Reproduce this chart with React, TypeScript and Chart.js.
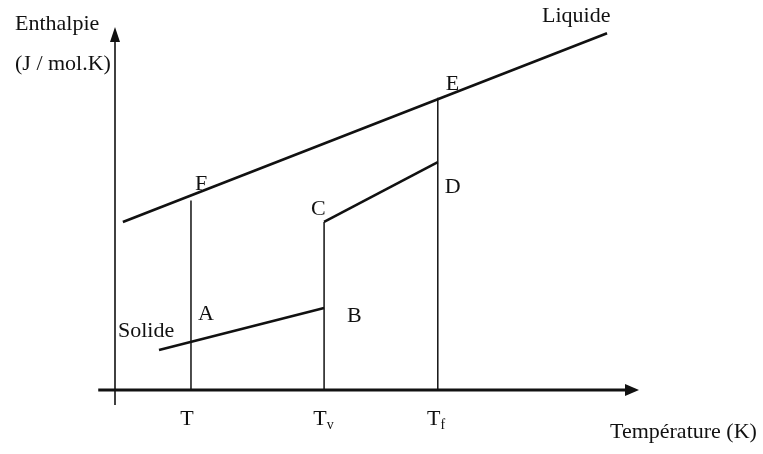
import React, { useEffect, useRef } from "react";
import { Chart, registerables } from "chart.js";

Chart.register(...registerables);

// Temperatures (x, arbitrary units) and their tick labels
const tickMain = ["T", "T", "T"];
const tickSub = ["", "v", "f"];
const tickValues = [1.45, 3.99, 6.16];

// Liquid line
const liquidX = [0.15, 9.39];
const liquidY = [4.63, 9.83];
// Solid line
const solidX = [0.84, 3.99];
const solidY = [1.1, 2.26];
// C-D segment
const cdX = [3.99, 6.16];
const cdY = [4.63, 6.28];
// Vertical drop lines at T, Tv, Tf (top values)
const verticalTops = [5.22, 4.63, 8.05];

const axisXMin = -0.32;
const axisYMin = -0.41;
const axisMax = 10;

const FONT = "22px 'Liberation Serif', 'DejaVu Serif', serif";
const SUBFONT = "14px 'Liberation Serif', 'DejaVu Serif', serif";
const INK = "#111";

const lineAt = (xs: number[], ys: number[], x: number) =>
  ys[0] + ((ys[1] - ys[0]) * (x - xs[0])) / (xs[1] - xs[0]);

const overlay = {
  id: "overlay",
  afterDatasetsDraw(chart: any) {
    const ctx = chart.ctx as CanvasRenderingContext2D;
    const xs = chart.scales.x;
    const ys = chart.scales.y;
    const px = (v: number) => xs.getPixelForValue(v);
    const py = (v: number) => ys.getPixelForValue(v);
    ctx.save();
    ctx.strokeStyle = INK;
    ctx.fillStyle = INK;
    // y axis
    const x0 = px(0);
    const y0 = py(0);
    const yTip = py(axisMax);
    ctx.lineWidth = 1.6;
    ctx.beginPath();
    ctx.moveTo(x0, py(axisYMin));
    ctx.lineTo(x0, yTip + 10);
    ctx.stroke();
    ctx.beginPath();
    ctx.moveTo(x0, yTip);
    ctx.lineTo(x0 - 5, yTip + 15);
    ctx.lineTo(x0 + 5, yTip + 15);
    ctx.closePath();
    ctx.fill();
    // x axis
    const xTip = px(axisMax);
    ctx.lineWidth = 2.8;
    ctx.beginPath();
    ctx.moveTo(px(axisXMin), y0);
    ctx.lineTo(xTip - 10, y0);
    ctx.stroke();
    ctx.beginPath();
    ctx.moveTo(xTip, y0);
    ctx.lineTo(xTip - 14, y0 - 6);
    ctx.lineTo(xTip - 14, y0 + 6);
    ctx.closePath();
    ctx.fill();

    // texts
    ctx.font = FONT;
    ctx.textBaseline = "alphabetic";
    ctx.textAlign = "left";
    ctx.fillText("Enthalpie", 15, 30);
    ctx.fillText("(J / mol.K)", 15, 70);
    ctx.fillText("Température (K)", 610, 438);

    const tAt = tickValues[0];
    const tv = tickValues[1];
    const tf = tickValues[2];
    const put = (s: string, x: number, y: number) => ctx.fillText(s, x, y);
    put("F", px(tAt) + 4, py(lineAt(liquidX, liquidY, tAt)) - 5);
    put("E", px(tf) + 8, py(lineAt(liquidX, liquidY, tf)) - 9);
    put("C", px(tv) - 13, py(cdY[0]) - 7);
    put("D", px(tf) + 7, py(cdY[1]) + 31);
    put("A", px(tAt) + 7, py(lineAt(solidX, solidY, tAt)) - 22);
    put("B", px(tv) + 23, py(solidY[1]) + 14);
    put("Solide", px(solidX[0]) - 41, py(solidY[0]) - 13);
    put("Liquide", px(liquidX[1]) - 65, py(liquidY[1]) - 11);

    // tick labels
    tickValues.forEach((v, i) => {
      const cx = px(v);
      ctx.font = FONT;
      const w = ctx.measureText(tickMain[i]).width;
      const left = cx - 4 - w / 2;
      ctx.fillText(tickMain[i], left, 425);
      if (tickSub[i]) {
        ctx.font = SUBFONT;
        ctx.fillText(tickSub[i], left + w, 429);
      }
    });
    ctx.restore();
  },
};

export default function App() {
  const ref = useRef<HTMLCanvasElement | null>(null);
  useEffect(() => {
    document.body.style.margin = "0";
    const canvas = ref.current!;
    const thick = { borderColor: INK, borderWidth: 2.6, pointRadius: 0, showLine: true, fill: false };
    const thin = { borderColor: INK, borderWidth: 1.5, pointRadius: 0, showLine: true, fill: false };
    const chart = new Chart(canvas, {
      type: "scatter",
      data: {
        datasets: [
          { ...thick, label: "Liquide", data: liquidX.map((x, i) => ({ x, y: liquidY[i] })) },
          { ...thick, label: "Solide", data: solidX.map((x, i) => ({ x, y: solidY[i] })) },
          { ...thick, label: "CD", data: cdX.map((x, i) => ({ x, y: cdY[i] })) },
          ...tickValues.map((v, i) => ({
            ...thin,
            label: "v" + i,
            data: [
              { x: v, y: 0 },
              { x: v, y: verticalTops[i] },
            ],
          })),
        ],
      },
      options: {
        animation: false,
        responsive: false,
        layout: { padding: { left: 94.04, right: 113.5, top: 12.48, bottom: 42.22 } },
        scales: {
          x: { type: "linear", min: -0.4, max: 10.2, display: false },
          y: { type: "linear", min: -0.6, max: 10.4, display: false },
        },
        plugins: { legend: { display: false }, tooltip: { enabled: false } },
      },
      plugins: [overlay],
    });
    return () => chart.destroy();
  }, []);
  return (
    <div style={{ position: "absolute", left: 0, top: 0, width: 763, height: 454, background: "#fff" }}>
      <canvas ref={ref} width={763} height={454} />
    </div>
  );
}
